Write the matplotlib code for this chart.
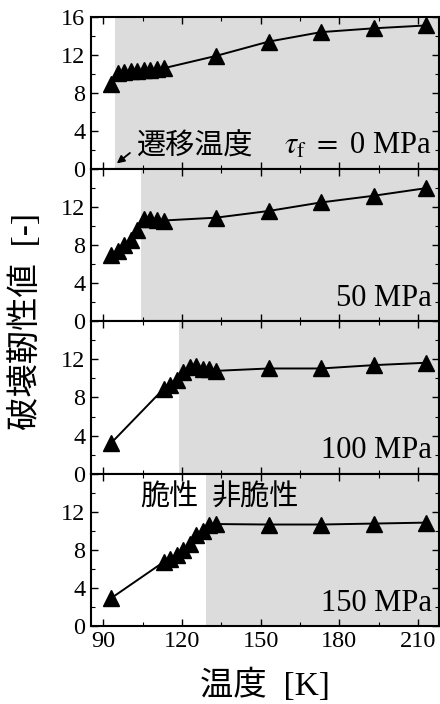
import numpy as np
import matplotlib.pyplot as plt
from matplotlib.ticker import MultipleLocator

plt.rcParams['font.family'] = ['Liberation Serif', 'Noto Sans CJK JP']
plt.rcParams['mathtext.fontset'] = 'stix'

# 温度 [K]
temp_0 = [93, 95.5, 98, 100.5, 103, 105.5, 108, 110.5, 113, 133, 153, 173, 193, 213]
temp_100 = [93, 113, 115.5, 118, 120.5, 123, 125.5, 128, 130.5, 133, 153, 173, 193, 213]

# 破壊靭性値 (τf = 0, 50, 100, 150 MPa)
kic_0 = [9.0, 10.1, 10.2, 10.3, 10.3, 10.4, 10.4, 10.5, 10.6, 11.9, 13.4, 14.4, 14.8, 15.1]
kic_50 = [7.0, 7.4, 8.0, 8.6, 9.6, 10.8, 10.8, 10.7, 10.6, 10.9, 11.6, 12.5, 13.2, 14.0]
kic_100 = [3.2, 8.9, 9.3, 9.8, 10.7, 11.2, 11.3, 11.0, 10.95, 10.8, 11.05, 11.05, 11.4, 11.65]
kic_150 = [2.9, 6.7, 7.0, 7.4, 7.95, 8.65, 9.5, 10.0, 10.55, 10.7, 10.65, 10.65, 10.75, 10.85]

# 遷移温度 [K]
t_trans = [94.5, 104.5, 119, 129]
labels = [r'$\tau_{\mathrm{f}}\ =$ 0 MPa', '50 MPa', '100 MPa', '150 MPa']

series = [(temp_0, kic_0), (temp_0, kic_50), (temp_100, kic_100), (temp_100, kic_150)]

fig, axes = plt.subplots(4, 1, figsize=(4.4, 7.04), dpi=100, sharex=True)
fig.subplots_adjust(left=0.207, right=0.998, top=0.976, bottom=0.111, hspace=0)

for i, ax in enumerate(axes):
    x, y = series[i]
    ax.axvspan(t_trans[i], 230, color='#dcdcdc', lw=0, zorder=0)
    ax.plot(x, y, color='black', lw=1.4, marker='^', ms=11, mfc='black', mec='black', zorder=3)
    ax.set_xlim(85.4, 218)
    ax.set_ylim(0, 16)
    ax.xaxis.set_major_locator(MultipleLocator(30))
    ax.xaxis.set_minor_locator(MultipleLocator(15))
    ax.yaxis.set_major_locator(MultipleLocator(4))
    ax.yaxis.set_minor_locator(MultipleLocator(2))
    ax.tick_params(which='both', direction='in', top=True, right=True, labelsize=17.5, pad=4)
    ax.tick_params(which='major', length=5, width=1)
    ax.tick_params(which='minor', length=3, width=0.8)
    for s in ax.spines.values():
        s.set_linewidth(1.5)
    if i > 0:
        ax.set_yticks([0, 4, 8, 12, 16])
        ax.set_yticklabels(['0', '4', '8', '12', ''])
    ax.text(0.98, 0.15, labels[i], transform=ax.transAxes, ha='right', va='center', fontsize=22)

# 遷移温度の矢印
axes[0].text(103, 2.4, '遷移温度', fontsize=21, family='Noto Sans CJK JP', va='center', ha='left')
axes[0].annotate('', xy=(95.2, 0.6), xytext=(100.2, 1.7),
                 arrowprops=dict(arrowstyle='-|>', color='black', lw=1.3,
                                 shrinkA=0, shrinkB=0, mutation_scale=11))
axes[3].text(0.224, 0.84, '脆性', transform=axes[3].transAxes, ha='center', va='center',
             fontsize=21, family='Noto Sans CJK JP')
axes[3].text(0.473, 0.84, '非脆性', transform=axes[3].transAxes, ha='center', va='center',
             fontsize=21, family='Noto Sans CJK JP')

axes[3].set_xlabel('温度  [K]', fontsize=24, labelpad=12)
fig.text(0.057, 0.543, '破壊靭性値  [-]', rotation=90, ha='center', va='center', fontsize=24)

fig.savefig('out.png', dpi=100)
